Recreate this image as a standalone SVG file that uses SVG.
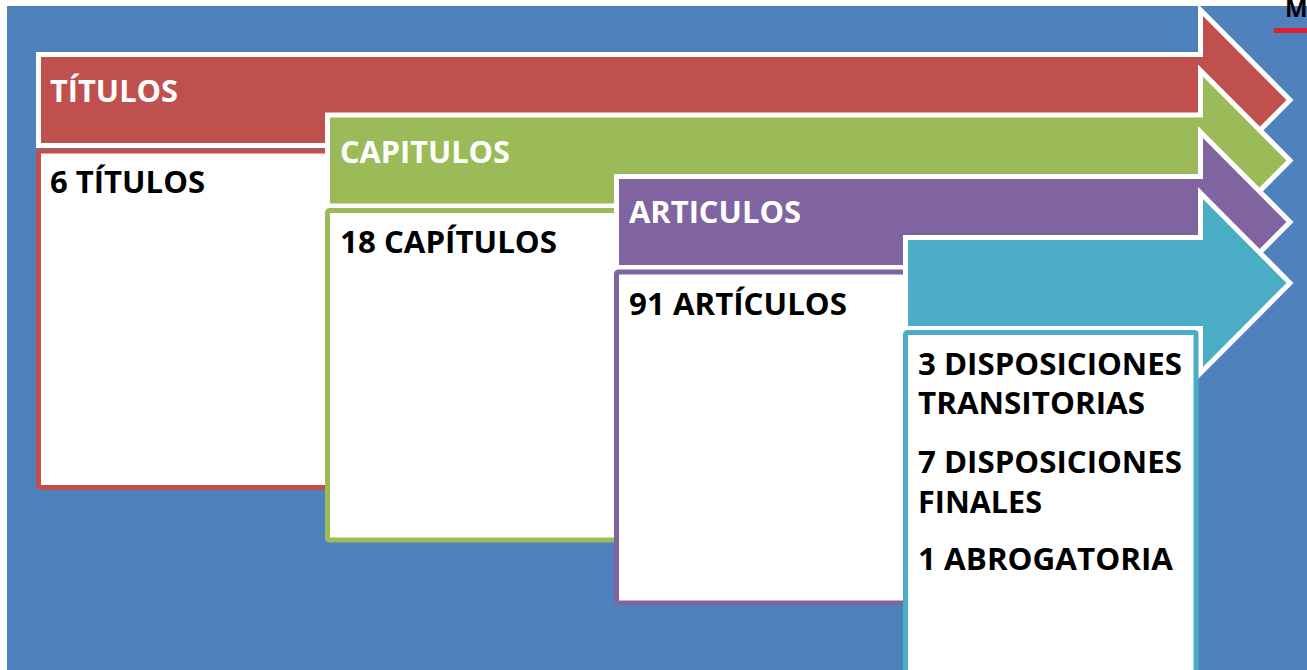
<svg xmlns="http://www.w3.org/2000/svg" width="1307" height="670" viewBox="0 0 1307 670">
<style>
.arrow{stroke:#ffffff;stroke-width:5;stroke-linejoin:miter}
.box{fill:#ffffff;stroke-width:5}
.hd{font-family:"Open Sans","Liberation Sans",sans-serif;font-weight:700;font-size:31px;fill:#ffffff}
.tx{font-family:"Open Sans","Liberation Sans",sans-serif;font-weight:700;font-size:31px;fill:#000000}
</style>
<rect x="0" y="0" width="1307" height="670" fill="#ffffff"/>
<rect x="7" y="6" width="1300" height="664" fill="#4F81BD"/>
<text x="1285" y="17" font-family="Open Sans, Liberation Sans, sans-serif" font-weight="700" font-size="24" fill="#000000">M</text>
<rect x="1274" y="28" width="33" height="5" fill="#E0202E"/>
<g id="titulos">
<path class="arrow" fill="#C0504D" d="M38.5,54.5 H1200.5 V10 L1290,100 L1200.5,190 V145.5 H38.5 Z"/>
<text class="hd" x="50" y="102" textLength="128" lengthAdjust="spacingAndGlyphs">TÍTULOS</text>
<rect class="box" stroke="#C0504D" x="38.5" y="151" width="300" height="336.5" rx="2"/>
<text class="tx" x="50" y="193" textLength="155" lengthAdjust="spacingAndGlyphs">6 TÍTULOS</text>
</g>
<g id="capitulos">
<path class="arrow" fill="#9BBB59" d="M327.5,115 H1200.5 V70.5 L1290,160.5 L1200.5,250.5 V206 H327.5 Z"/>
<text class="hd" x="340" y="163" textLength="170" lengthAdjust="spacingAndGlyphs">CAPITULOS</text>
<rect class="box" stroke="#9BBB59" x="327.5" y="210.5" width="300" height="329.5" rx="2"/>
<text class="tx" x="340" y="253" textLength="217" lengthAdjust="spacingAndGlyphs">18 CAPÍTULOS</text>
</g>
<g id="articulos">
<path class="arrow" fill="#8064A2" d="M616.5,176.5 H1200.5 V132 L1290,222 L1200.5,312 V267.5 H616.5 Z"/>
<text class="hd" x="629" y="223" textLength="172" lengthAdjust="spacingAndGlyphs">ARTICULOS</text>
<rect class="box" stroke="#8064A2" x="616.5" y="272" width="300" height="331" rx="2"/>
<text class="tx" x="629" y="315" textLength="218" lengthAdjust="spacingAndGlyphs">91 ARTÍCULOS</text>
</g>
<g id="disposiciones">
<path class="arrow" fill="#4BACC6" d="M905.5,237.5 H1200.5 V193 L1290,283 L1200.5,373 V328.5 H905.5 Z"/>
<rect class="box" stroke="#4BACC6" x="905.5" y="332.5" width="290.5" height="350" rx="2"/>
<text class="tx" x="918" y="375" textLength="264" lengthAdjust="spacingAndGlyphs">3 DISPOSICIONES</text>
<text class="tx" x="918" y="414" textLength="227" lengthAdjust="spacingAndGlyphs">TRANSITORIAS</text>
<text class="tx" x="918" y="473" textLength="264" lengthAdjust="spacingAndGlyphs">7 DISPOSICIONES</text>
<text class="tx" x="918" y="513" textLength="124" lengthAdjust="spacingAndGlyphs">FINALES</text>
<text class="tx" x="918" y="570" textLength="255" lengthAdjust="spacingAndGlyphs">1 ABROGATORIA</text>
</g>
<g id="connectors"></g>
</svg>
